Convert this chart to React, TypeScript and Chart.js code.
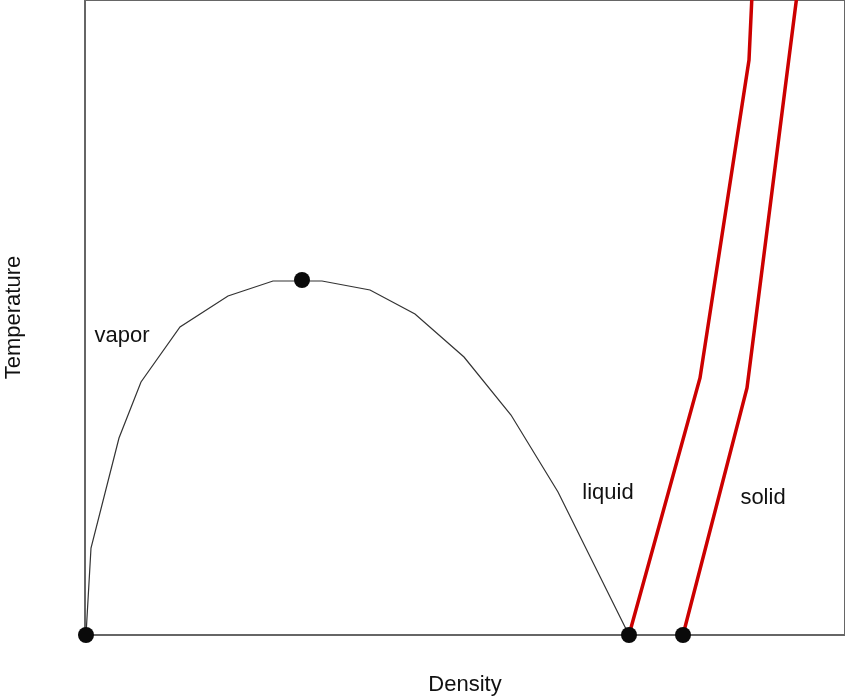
import React, { useEffect, useRef } from "react";
import { Chart, registerables } from "chart.js";

Chart.register(...registerables);

// Data units: density along x (0..760), temperature along y (0..635)
const vaporLiquidX = [1, 6, 34, 56, 95, 143, 188, 237, 285, 330, 379, 426, 473, 544];
const vaporLiquidY = [0, 87, 197, 253, 308, 339, 354, 354, 345, 321, 278, 220, 143, 0];

const liquidLineX = [544, 615, 664, 667];
const liquidLineY = [0, 257, 575, 640];

const solidLineX = [598, 662, 712];
const solidLineY = [0, 247, 640];

const markerX = [1, 544, 598, 217];
const markerY = [0, 0, 0, 355];

const regionLabels = ["vapor", "liquid", "solid"];
const regionLabelX = [37, 523, 678];
const regionLabelY = [299, 142, 137];

const xTitle = "Density";
const yTitle = "Temperature";

const zip = (xs: number[], ys: number[]) => xs.map((x, i) => ({ x, y: ys[i] }));

const FONT = "'Liberation Sans', Arial, Helvetica, sans-serif";

export default function App() {
  const ref = useRef<HTMLCanvasElement>(null);

  useEffect(() => {
    if (!ref.current) return;

    const framePlugin = {
      id: "frame",
      beforeDatasetsDraw(chart: any) {
        const { ctx, chartArea } = chart;
        ctx.save();
        ctx.strokeStyle = "#666666";
        ctx.lineWidth = 2;
        ctx.strokeRect(chartArea.left, chartArea.top, chartArea.right - chartArea.left, chartArea.bottom - chartArea.top);
        ctx.restore();
      },
      afterDatasetsDraw(chart: any) {
        const { ctx, scales } = chart;
        ctx.save();
        ctx.fillStyle = "#111111";
        ctx.font = `22px ${FONT}`;
        ctx.textAlign = "center";
        ctx.textBaseline = "middle";
        regionLabels.forEach((t, i) => {
          ctx.fillText(t, scales.x.getPixelForValue(regionLabelX[i]), scales.y.getPixelForValue(regionLabelY[i]));
        });
        ctx.restore();
      },
    };

    const chart = new Chart(ref.current, {
      type: "scatter",
      data: {
        datasets: [
          {
            label: "points",
            data: zip(markerX, markerY),
            pointRadius: 8,
            pointHoverRadius: 8,
            backgroundColor: "#0a0a0a",
            borderColor: "#0a0a0a",
            borderWidth: 0,
            showLine: false,
            clip: false as any,
          },
          {
            label: "coexistence",
            data: zip(vaporLiquidX, vaporLiquidY),
            showLine: true,
            borderColor: "#333333",
            borderWidth: 1.2,
            pointRadius: 0,
            tension: 0,
          },
          {
            label: "liquid",
            data: zip(liquidLineX, liquidLineY),
            showLine: true,
            borderColor: "#cc0000",
            borderWidth: 3.5,
            pointRadius: 0,
            tension: 0,
          },
          {
            label: "solid",
            data: zip(solidLineX, solidLineY),
            showLine: true,
            borderColor: "#cc0000",
            borderWidth: 3.5,
            pointRadius: 0,
            tension: 0,
          },
        ],
      },
      options: {
        animation: false,
        responsive: true,
        maintainAspectRatio: false,
        layout: { padding: 0, autoPadding: false },
        plugins: {
          legend: { display: false },
          tooltip: { enabled: false },
        },
        scales: {
          x: {
            type: "linear",
            min: 0,
            max: 760,
            ticks: { display: false },
            grid: { display: false, drawTicks: false },
            border: { display: false },
            title: {
              display: true,
              text: xTitle,
              color: "#111111",
              font: { family: FONT, size: 22 },
              padding: { top: 36.6, bottom: 0 },
            },
          },
          y: {
            type: "linear",
            min: 0,
            max: 635,
            ticks: { display: false },
            grid: { display: false, drawTicks: false },
            border: { display: false },
            title: {
              display: true,
              text: yTitle,
              color: "#111111",
              font: { family: FONT, size: 22 },
              padding: { top: 1, bottom: 57.6 },
            },
          },
        },
      },
      plugins: [framePlugin],
    });

    return () => chart.destroy();
  }, []);

  return (
    <div style={{ position: "absolute", left: 0, top: 0, width: 845, height: 698, background: "#fff" }}>
      <canvas ref={ref} />
    </div>
  );
}
